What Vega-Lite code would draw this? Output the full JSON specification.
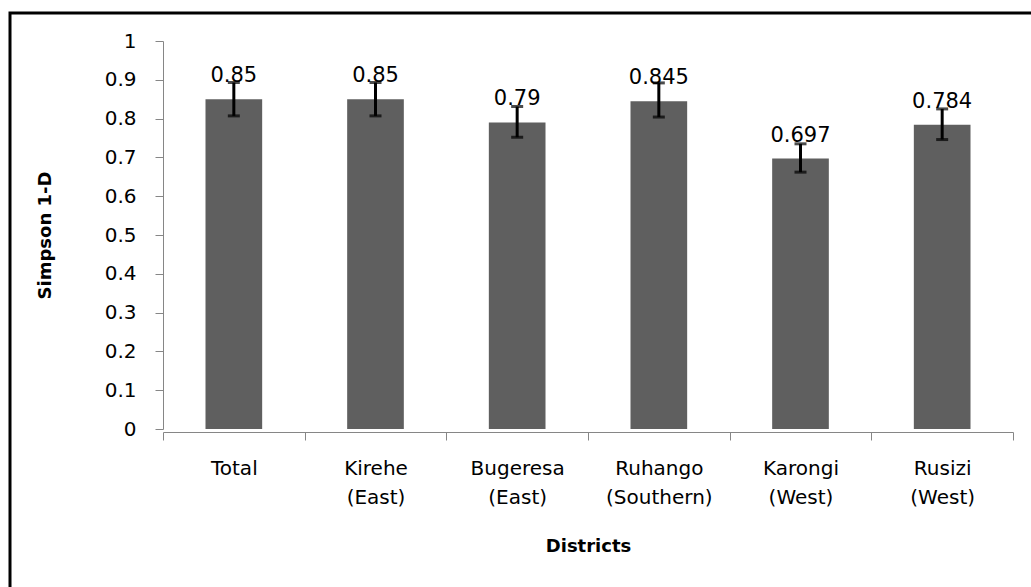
{
  "$schema": "https://vega.github.io/schema/vega-lite/v6.json",
  "autosize": {"type": "none"},
  "padding": {"left": 10, "top": 13, "right": -3, "bottom": -3},
  "width": 1024,
  "height": 577,
  "background": "white",
  "config": {
    "view": {"stroke": "black", "strokeWidth": 3, "fill": "white"},
    "font": "DejaVu Sans"
  },
  "data": {
    "values": [
      {"district": "Total", "value": 0.85, "low": 0.807, "high": 0.893},
      {"district": "Kirehe (East)", "value": 0.85, "low": 0.807, "high": 0.893},
      {"district": "Bugeresa (East)", "value": 0.79, "low": 0.752, "high": 0.831},
      {"district": "Ruhango (Southern)", "value": 0.845, "low": 0.804, "high": 0.892},
      {"district": "Karongi (West)", "value": 0.697, "low": 0.662, "high": 0.735},
      {"district": "Rusizi (West)", "value": 0.784, "low": 0.746, "high": 0.825}
    ]
  },
  "encoding": {
    "x": {
      "field": "district",
      "type": "nominal",
      "sort": null,
      "scale": {"range": [153, 1003], "paddingInner": 0, "paddingOuter": 0},
      "axis": {
        "orient": "bottom",
        "offset": -158,
        "title": "Districts",
        "titleFont": "DejaVu Sans",
        "titleFontWeight": "bold",
        "titleFontSize": 18,
        "titleColor": "black",
        "titlePadding": 30,
        "labelAngle": 0,
        "labelExpr": "split(datum.label, ' ')",
        "labelFontSize": 20,
        "labelColor": "black",
        "labelLineHeight": 29,
        "labelPadding": 18,
        "tickBand": "extent",
        "tickSize": 8,
        "tickColor": "#868686",
        "domainColor": "#868686",
        "grid": false
      }
    }
  },
  "layer": [
    {
      "mark": {"type": "bar", "color": "#5f5f5f", "width": {"band": 0.4}},
      "encoding": {
        "y": {
          "field": "value",
          "type": "quantitative",
          "scale": {"domain": [0, 1], "range": [416, 28], "nice": false},
          "axis": {
            "orient": "left",
            "offset": -153,
            "title": "Simpson 1-D",
            "titleFont": "DejaVu Sans",
            "titleFontWeight": "bold",
            "titleFontSize": 18,
            "titleColor": "black",
            "titlePadding": 50,
            "values": [0, 0.1, 0.2, 0.3, 0.4, 0.5, 0.6, 0.7, 0.8, 0.9, 1],
            "format": ".1~f",
            "labelFontSize": 20,
            "labelColor": "black",
            "labelPadding": 19,
            "tickSize": 8,
            "tickColor": "#868686",
            "domainColor": "#868686",
            "grid": false
          }
        }
      }
    },
    {
      "mark": {"type": "rule", "color": "black", "strokeWidth": 3},
      "encoding": {
        "y": {"field": "low", "type": "quantitative"},
        "y2": {"field": "high"}
      }
    },
    {
      "mark": {"type": "tick", "color": "black", "thickness": 3, "size": 12, "orient": "horizontal"},
      "encoding": {"y": {"field": "low", "type": "quantitative"}}
    },
    {
      "mark": {"type": "tick", "color": "black", "thickness": 3, "size": 12, "orient": "horizontal"},
      "encoding": {"y": {"field": "high", "type": "quantitative"}}
    },
    {
      "mark": {"type": "text", "fontSize": 21, "color": "black", "baseline": "alphabetic", "dy": -17},
      "encoding": {
        "y": {"field": "value", "type": "quantitative"},
        "text": {"field": "value", "type": "quantitative"}
      }
    }
  ]
}
